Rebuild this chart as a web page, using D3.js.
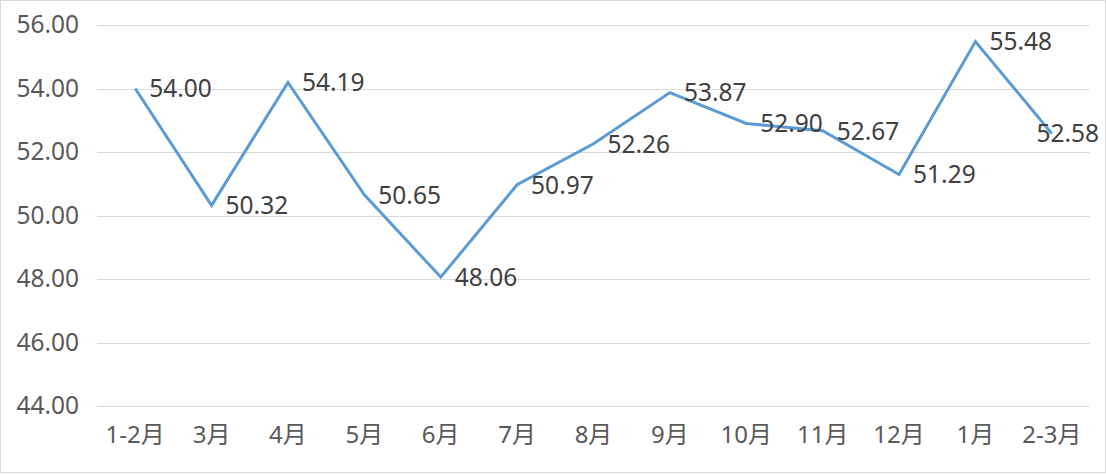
<!DOCTYPE html>
<html><head><meta charset="utf-8">
<script src="https://cdn.jsdelivr.net/npm/d3@7"></script>
<style>
html,body{margin:0;padding:0;background:#fff;}
svg{display:block;font-family:"Noto Sans","Noto Sans CJK SC",sans-serif;}
</style></head>
<body><svg id="c" width="1106" height="474"></svg>
<script>
const categories = ["1-2月","3月","4月","5月","6月","7月","8月","9月","10月","11月","12月","1月","2-3月"];
const values = [54.00, 50.32, 54.19, 50.65, 48.06, 50.97, 52.26, 53.87, 52.90, 52.67, 51.29, 55.48, 52.58];
const yTicks = [44, 46, 48, 50, 52, 54, 56];

const W = 1106, H = 474;
const svg = d3.select("#c");
svg.append("rect").attr("x",0.5).attr("y",0.5).attr("width",W-1).attr("height",H-2)
  .attr("fill","#fff").attr("stroke","#d9d9d9");

const x = d3.scaleBand().domain(categories).range([97, 1090]);
const y = d3.scaleLinear().domain([44, 56]).range([406, 25]);

const grid = svg.append("g");
grid.selectAll("line").data(yTicks).join("line")
  .attr("x1", 97).attr("x2", 1090)
  .attr("y1", d => Math.round(y(d))+0.5).attr("y2", d => Math.round(y(d))+0.5)
  .attr("stroke", "#d9d9d9").attr("stroke-width", 1);

const yAxis = d3.axisLeft(y).tickValues(yTicks).tickFormat(d3.format(".2f")).tickSize(0).tickPadding(0);
const ga = svg.append("g").attr("transform","translate(79,0)").call(yAxis);
ga.select(".domain").remove();
ga.selectAll("text").attr("font-size", 24.5).attr("fill", "#595959")
  .attr("font-family", "Noto Sans, sans-serif");

const xAxis = d3.axisBottom(x).tickSize(0).tickPadding(0);
const gx = svg.append("g").attr("transform","translate(0,426)").call(xAxis);
gx.select(".domain").remove();
gx.selectAll("text").attr("font-size", 24).attr("fill", "#595959")
  .attr("font-family", "Noto Sans, Noto Sans CJK SC, sans-serif");

const cx = (d,i) => x(categories[i]) + x.bandwidth()/2;
const line = d3.line().x((d,i) => cx(d,i)).y(d => y(d));
svg.append("path").datum(values).attr("d", line)
  .attr("fill","none").attr("stroke","#5b9bd5").attr("stroke-width",3)
  .attr("stroke-linejoin","miter");

const lbl = svg.append("g");
values.forEach((v,i) => {
  const t = lbl.append("text").text(v.toFixed(2))
    .attr("x", cx(v,i) + 14).attr("y", y(v))
    .attr("dy","0.36em").attr("font-size",24.5).attr("fill","#404040")
    .attr("font-family","Noto Sans, sans-serif");
  const bb = t.node().getBBox();
  if (bb.x + bb.width > 1099) t.attr("x", 1099 - bb.width);
});
</script></body></html>
